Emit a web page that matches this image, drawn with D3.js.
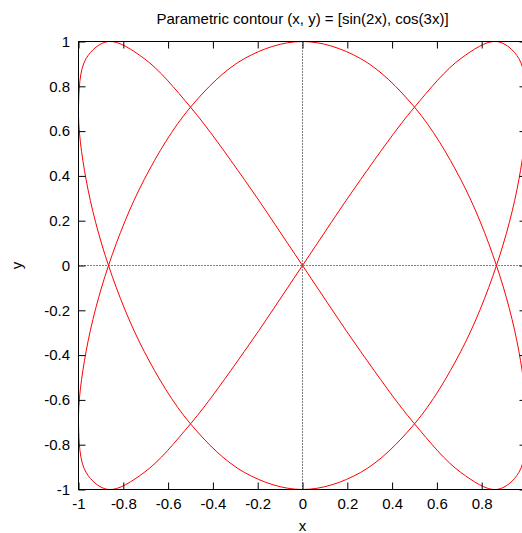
<!DOCTYPE html>
<html>
<head>
<meta charset="utf-8">
<script src="https://cdn.jsdelivr.net/npm/d3@7"></script>
<style>
  html, body { margin: 0; padding: 0; background: #fff; }
  svg { display: block; }
  text { font-family: "Liberation Sans", Arial, sans-serif; fill: #000; }
</style>
</head>
<body>
<svg id="chart" width="522" height="533"></svg>
<script>
// ---- data ----
const titleText = "Parametric contour (x, y) = [sin(2x), cos(3x)]";
const xLabel = "x";
const yLabel = "y";
const xTicks = [-1, -0.8, -0.6, -0.4, -0.2, 0, 0.2, 0.4, 0.6, 0.8];
const xTickLabels = ["-1", "-0.8", "-0.6", "-0.4", "-0.2", "0", "0.2", "0.4", "0.6", "0.8"];
const yTicks = [-1, -0.8, -0.6, -0.4, -0.2, 0, 0.2, 0.4, 0.6, 0.8, 1];
const yTickLabels = ["-1", "-0.8", "-0.6", "-0.4", "-0.2", "0", "0.2", "0.4", "0.6", "0.8", "1"];
// points along the closed curve, in drawing order
const curveX = [0, 0.259, 0.5, 0.707, 0.866, 0.966, 1, 0.966, 0.866, 0.707, 0.5, 0.259,
                0, -0.259, -0.5, -0.707, -0.866, -0.966, -1, -0.966, -0.866, -0.707, -0.5, -0.259,
                0, 0.259, 0.5, 0.707, 0.866, 0.966, 1, 0.966, 0.866, 0.707, 0.5, 0.259,
                0, -0.259, -0.5, -0.707, -0.866, -0.966, -1, -0.966, -0.866, -0.707, -0.5, -0.259];
const curveY = [1, 0.924, 0.707, 0.383, 0, -0.383, -0.707, -0.924, -1, -0.924, -0.707, -0.383,
                0, 0.383, 0.707, 0.924, 1, 0.924, 0.707, 0.383, 0, -0.383, -0.707, -0.924,
                -1, -0.924, -0.707, -0.383, 0, 0.383, 0.707, 0.924, 1, 0.924, 0.707, 0.383,
                0, -0.383, -0.707, -0.924, -1, -0.924, -0.707, -0.383, 0, 0.383, 0.707, 0.924];

// ---- drawing ----
const svg = d3.select("#chart");
const x = d3.scaleLinear().domain([-1, 1]).range([78.5, 526.5]);
const y = d3.scaleLinear().domain([-1, 1]).range([489.5, 41.5]);
const tickLen = 7;

// zero axes (dotted)
svg.append("line")
  .attr("x1", x(-1)).attr("x2", x(1)).attr("y1", y(0)).attr("y2", y(0))
  .attr("stroke", "#000").attr("stroke-width", 1).attr("stroke-dasharray", "1,2");
svg.append("line")
  .attr("x1", x(0)).attr("x2", x(0)).attr("y1", y(-1)).attr("y2", y(1))
  .attr("stroke", "#000").attr("stroke-width", 1).attr("stroke-dasharray", "1,2");

// curve
const pts = curveX.map((v, i) => [v, curveY[i]]);
const line = d3.line().x(d => x(d[0])).y(d => y(d[1])).curve(d3.curveCatmullRomClosed.alpha(0.5));
svg.append("path").datum(pts)
  .attr("d", line)
  .attr("fill", "none").attr("stroke", "#ff0000").attr("stroke-width", 1);

// axes with inward ticks, mirrored
const axB = d3.axisBottom(x).tickValues(xTicks).tickSize(-tickLen).tickFormat((d, i) => xTickLabels[i]).tickPadding(9);
const axT = d3.axisTop(x).tickValues(xTicks).tickSize(-tickLen).tickFormat("");
const axL = d3.axisLeft(y).tickValues(yTicks).tickSize(-tickLen).tickFormat((d, i) => yTickLabels[i]).tickPadding(8.5);
const axR = d3.axisRight(y).tickValues(yTicks).tickSize(-tickLen).tickFormat("");

function styleAxis(g) {
  g.select(".domain").remove();
  g.selectAll(".tick line").attr("stroke", "#000");
  g.selectAll(".tick text").attr("font-size", 15).attr("font-family", "Liberation Sans, Arial, sans-serif").attr("fill", "#000");
}
svg.append("g").attr("transform", `translate(0,${y(-1)})`).call(axB).call(styleAxis);
svg.append("g").attr("transform", `translate(0,${y(1)})`).call(axT).call(styleAxis);
svg.append("g").attr("transform", `translate(${x(-1)},0)`).call(axL).call(styleAxis);
svg.append("g").attr("transform", `translate(${x(1)},0)`).call(axR).call(styleAxis);

// border
svg.append("rect")
  .attr("x", x(-1)).attr("y", y(1))
  .attr("width", x(1) - x(-1)).attr("height", y(-1) - y(1))
  .attr("fill", "none").attr("stroke", "#000").attr("stroke-width", 1);

// titles
svg.append("text").attr("x", (x(-1) + x(1)) / 2).attr("y", 24)
  .attr("text-anchor", "middle").attr("font-size", 15).text(titleText);
svg.append("text").attr("x", (x(-1) + x(1)) / 2).attr("y", 531)
  .attr("text-anchor", "middle").attr("font-size", 15).text(xLabel);
svg.append("text").attr("transform", `translate(22,${y(0)}) rotate(-90)`)
  .attr("text-anchor", "middle").attr("font-size", 15).text(yLabel);
</script>
</body>
</html>
